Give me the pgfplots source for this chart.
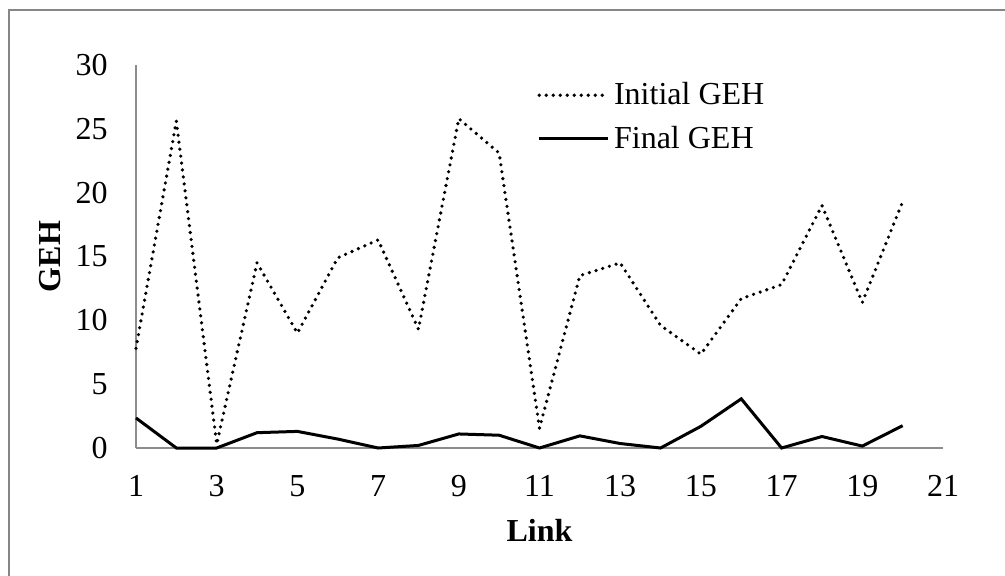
\documentclass[border=0pt]{standalone}
\usepackage{fontspec}
\setmainfont{Liberation Serif}
\usepackage{pgfplots}
\pgfplotsset{compat=1.18}

\definecolor{framegray}{RGB}{134,134,134}
\definecolor{axisgray}{RGB}{140,140,140}

\begin{document}
\begin{tikzpicture}
\useasboundingbox (0,0) rectangle (502.5pt,-288pt);
\draw[framegray, line width=1pt] (4.4pt,-5pt) rectangle (540pt,-320pt);
\begin{axis}[
	at={(68pt,-224pt)}, anchor=south west,
	scale only axis,
	width=403.5pt, height=191.5pt,
	xmin=1, xmax=21, ymin=0, ymax=30,
	xtick={1,3,...,21},
	ytick={0,5,...,30},
	axis x line*=bottom,
	axis y line*=left,
	axis line style={axisgray, line width=0.8pt, -},
	major tick length=0pt,
	clip=false,
	font=\fontsize{16}{19.2}\selectfont,
	/pgf/number format/assume math mode=true,
	yticklabel style={anchor=east, inner sep=0pt, xshift=-14pt},
	xticklabel style={anchor=north, inner sep=0pt, yshift=-13.5pt},
	xlabel={\textbf{Link}},
	ylabel={\textbf{GEH}},
	every axis x label/.style={at={(axis description cs:0.5,-0.214)}, anchor=center},
	every axis y label/.style={at={(axis description cs:-0.1066,0.5)}, rotate=90, anchor=center},
	legend cell align=left,
	legend style={draw=none, fill=none, at={(axis description cs:0.497,0.955)}, anchor=north west,
		inner sep=0pt, row sep=9pt,
		nodes={inner sep=0pt},
		/tikz/every odd column/.append style={column sep=2pt}},
	legend image code/.code={\draw[#1] (0pt,0pt) -- (34.5pt,0pt);},
]

\addplot[black, line width=1.8pt, line cap=round, dash pattern=on 0pt off 3.5pt]
	coordinates {(1,7.8) (2,25.6) (3,0.3) (4,14.5) (5,9.0) (6,14.9) (7,16.3) (8,9.3) (9,25.8) (10,23.1)
	(11,1.55) (12,13.5) (13,14.5) (14,9.6) (15,7.35) (16,11.7) (17,12.8) (18,19.0) (19,11.4) (20,19.3)};
\addlegendentry{Initial GEH}

\addplot[black, line width=1.5pt]
	coordinates {(1,2.35) (2,0) (3,0) (4,1.2) (5,1.3) (6,0.7) (7,0) (8,0.2) (9,1.1) (10,1.0)
	(11,0) (12,0.95) (13,0.35) (14,0) (15,1.7) (16,3.85) (17,0) (18,0.9) (19,0.15) (20,1.75)};
\addlegendentry{Final GEH}

\end{axis}
\end{tikzpicture}
\end{document}
